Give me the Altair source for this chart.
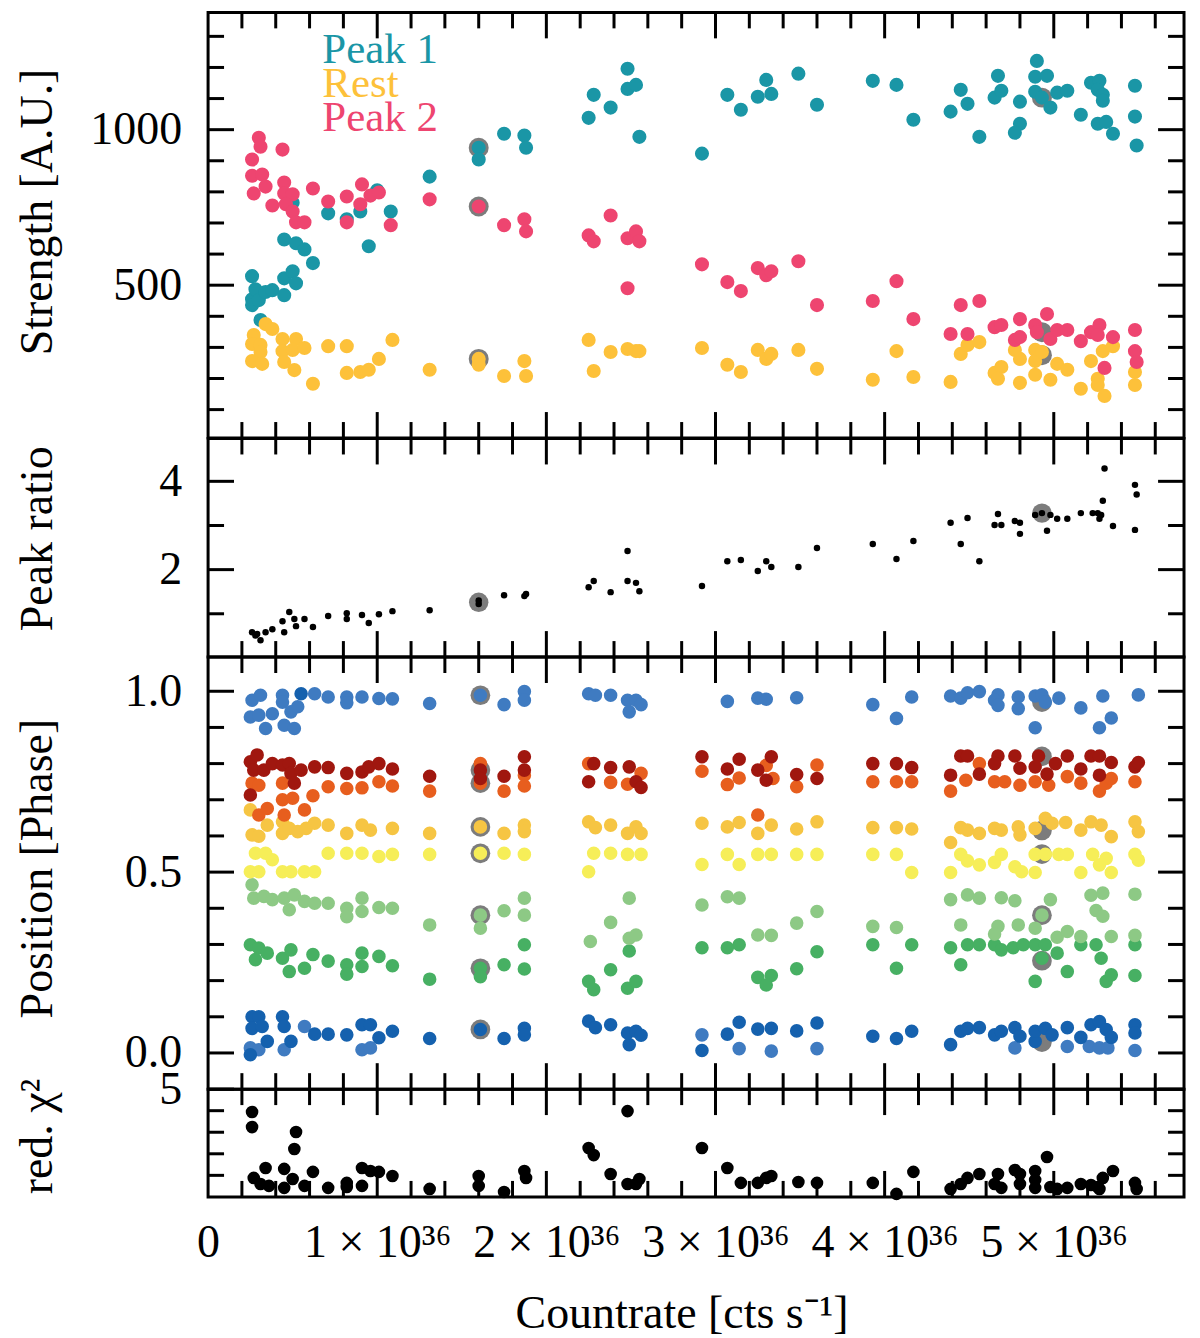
import altair as alt
import pandas as pd

# countrate in units of 1e36 cts/s
P1_X = [0.26, 0.26, 0.26, 0.28, 0.30, 0.31, 0.34, 0.38, 0.45, 0.45, 0.50, 0.52, 0.45, 0.52, 0.57, 0.62, 0.50, 0.71,
        0.82, 0.90, 0.95, 1.00, 1.08, 1.31, 1.60, 1.60, 1.75, 1.87, 1.88, 2.25, 2.28, 2.38, 2.48, 2.48, 2.53, 2.55,
        2.92, 3.07, 3.15, 3.25, 3.30, 3.33, 3.49, 3.60, 3.93, 4.07, 4.17, 4.39, 4.45, 4.49, 4.56, 4.67, 4.65, 4.69,
        4.80, 4.80, 4.77, 4.90, 4.89, 4.96, 4.89, 4.93, 4.98, 5.02, 5.08, 5.16, 5.22, 5.27, 5.26, 5.29, 5.29, 5.26,
        5.31, 5.35, 5.48, 5.48, 5.49]
P1_Y = [529, 455, 436, 487, 452, 388, 478, 484, 468, 522, 545, 506, 647, 635, 615, 571, 765, 731,
        712, 737, 625, 805, 737, 849, 942, 904, 987, 981, 942, 1038, 1112, 1071, 1196, 1131, 1144, 977,
        923, 1112, 1064, 1106, 1160, 1115, 1180, 1080, 1157, 1144, 1032, 1058, 1128, 1083, 977, 1173, 1103, 1125,
        1090, 1019, 990, 1221, 1170, 1173, 1122, 1103, 1071, 1119, 1125, 1048, 1151, 1157, 1128, 1112, 1093, 1019,
        1025, 987, 1141, 1042, 949]

REST_X = [0.34, 0.38, 0.27, 0.26, 0.31, 0.31, 0.26, 0.32, 0.44, 0.52, 0.44, 0.50, 0.57, 0.45, 0.51, 0.62, 0.71,
          0.82, 0.82, 0.90, 0.95, 1.01, 1.09, 1.31, 1.60, 1.60, 1.75, 1.87, 1.88, 2.25, 2.28, 2.38, 2.48, 2.53,
          2.55, 2.92, 3.07, 3.15, 3.25, 3.30, 3.33, 3.49, 3.60, 3.93, 4.07, 4.17, 4.39, 4.45, 4.49, 4.56, 4.65,
          4.69, 4.67, 4.77, 4.80, 4.80, 4.89, 4.89, 4.93, 4.89, 4.98, 5.02, 5.08, 5.16, 5.22, 5.26, 5.26, 5.30,
          5.29, 5.35, 5.48, 5.48]
REST_Y = [375, 359, 340, 311, 308, 285, 256, 247, 327, 327, 288, 292, 298, 253, 227, 183, 304,
          304, 218, 221, 228, 263, 324, 228, 263, 244, 208, 256, 208, 324, 224, 285, 295, 288,
          288, 298, 244, 221, 292, 263, 279, 292, 231, 196, 288, 205, 189, 279, 308, 317, 218,
          237, 199, 292, 263, 186, 292, 256, 285, 212, 196, 247, 228, 167, 256, 199, 179, 144,
          288, 304, 221, 179]

P2_X = [0.30, 0.31, 0.26, 0.44, 0.26, 0.32, 0.34, 0.27, 0.45, 0.45, 0.50, 0.38, 0.46, 0.50, 0.52, 0.57, 0.62,
        0.71, 0.82, 0.82, 0.91, 0.90, 0.96, 1.01, 1.08, 1.31, 1.60, 1.75, 1.87, 1.88, 2.25, 2.28, 2.38, 2.48,
        2.53, 2.55, 2.48, 2.92, 3.07, 3.15, 3.25, 3.30, 3.33, 3.49, 3.60, 3.93, 4.07, 4.17, 4.39, 4.45, 4.49,
        4.56, 4.65, 4.69, 4.80, 4.77, 4.80, 4.89, 4.90, 4.96, 4.98, 5.02, 5.08, 5.16, 5.22, 5.27, 5.26, 5.35,
        5.30, 5.48, 5.48, 5.49]
P2_Y = [974, 945, 904, 936, 852, 856, 817, 795, 830, 795, 792, 756, 760, 737, 702, 702, 811,
        769, 785, 702, 824, 760, 788, 798, 693, 776, 753, 693, 712, 673, 660, 641, 724, 651,
        673, 641, 490, 567, 510, 481, 555, 532, 545, 577, 436, 449, 513, 391, 343, 436, 343,
        449, 365, 372, 391, 324, 333, 372, 349, 407, 327, 356, 356, 320, 349, 372, 340, 333,
        234, 356, 288, 253]

HL_STR_X = [1.60, 1.60, 1.60, 4.93, 4.93, 4.93]
HL_STR_Y = [942, 753, 263, 1103, 349, 275]

RATIO_X = [0.26, 0.28, 0.31, 0.34, 0.38, 0.29, 0.45, 0.44, 0.48, 0.51, 0.52, 0.57, 0.62, 0.71, 0.82, 0.82, 0.91,
           0.95, 1.01, 1.09, 1.31, 1.60, 1.60, 1.75, 1.87, 1.88, 2.25, 2.28, 2.38, 2.48, 2.48, 2.53, 2.55, 2.92,
           3.07, 3.15, 3.25, 3.30, 3.33, 3.49, 3.60, 3.93, 4.07, 4.17, 4.39, 4.45, 4.49, 4.56, 4.67, 4.65, 4.69,
           4.77, 4.80, 4.80, 4.89, 4.93, 4.98, 4.96, 5.02, 5.08, 5.16, 5.23, 5.26, 5.27, 5.28, 5.29, 5.30, 5.35,
           5.48, 5.49, 5.48]
RATIO_Y = [0.58, 0.51, 0.40, 0.58, 0.65, 0.54, 0.58, 0.83, 1.04, 0.88, 0.72, 0.88, 0.70, 0.95, 1.01, 0.88, 0.97,
           0.79, 0.99, 1.06, 1.08, 1.30, 1.22, 1.42, 1.40, 1.45, 1.60, 1.74, 1.49, 2.42, 1.74, 1.70, 1.51, 1.63,
           2.19, 2.22, 1.97, 2.19, 2.06, 2.06, 2.49, 2.58, 2.24, 2.65, 3.06, 2.58, 3.17, 2.19, 3.26, 3.01, 3.01,
           3.10, 3.06, 2.81, 3.24, 3.28, 3.24, 2.88, 3.15, 3.15, 3.28, 3.28, 3.28, 3.15, 3.24, 3.56, 4.29, 2.99,
           3.92, 3.70, 2.90]

HL_RATIO_X = [1.60, 4.93]
HL_RATIO_Y = [1.26, 3.28]

# peak positions (phase), one list pair per component
LB_X = [0.26, 0.31, 0.25, 0.30, 0.34, 0.38, 0.44, 0.44, 0.45, 0.49, 0.51, 0.53, 0.63, 0.71, 0.82, 0.82, 0.91,
        1.01, 1.09, 1.31, 1.61, 1.75, 1.87, 1.87, 2.25, 2.29, 2.38, 2.48, 2.49, 2.53, 2.56,
        0.25, 0.30, 0.45, 0.57, 0.91, 0.96,
        3.07, 3.25, 3.30, 3.48, 3.93, 4.07, 4.16, 4.39, 4.45, 4.49, 4.56, 4.67, 4.65, 4.67, 4.79, 4.79, 4.89,
        4.93, 4.95, 5.03, 4.89, 5.16, 5.29, 5.34, 5.27, 5.50,
        2.92, 3.14, 3.33, 3.60, 4.77, 5.08, 5.21, 5.27, 5.32, 5.48]
LB_Y = [0.975, 0.989, 0.929, 0.934, 0.897, 0.938, 0.989, 0.970, 0.906, 0.943, 0.897, 0.957, 0.993, 0.984, 0.984,
        0.968, 0.984, 0.980, 0.979, 0.966, 0.989, 0.963, 0.999, 0.975, 0.993, 0.989, 0.989, 0.975, 0.943, 0.975,
        0.963,
        0.014, 0.009, 0.009, 0.073, 0.009, 0.014,
        0.972, 0.981, 0.978, 0.982, 0.963, 0.925, 0.984, 0.987, 0.981, 0.996, 0.999, 0.990, 0.975, 0.961, 0.984,
        0.952, 0.987, 0.990, 0.970, 0.981, 0.899, 0.954, 0.987, 0.926, 0.899, 0.990,
        0.050, 0.012, 0.005, 0.012, 0.014, 0.018, 0.018, 0.014, 0.014, 0.007]

DB_X = [0.55, 0.26, 0.30, 0.26, 0.32, 0.44, 0.45, 0.49, 0.35, 0.25, 0.63, 0.71, 0.82, 0.91, 0.96, 1.01, 1.09,
        1.31, 1.61, 1.75, 1.87, 1.87, 2.25, 2.29, 2.38, 2.49, 2.48, 2.53, 2.56,
        2.92, 3.07, 3.14, 3.25, 3.33, 3.48, 3.60, 3.93, 4.07, 4.16, 4.39, 4.45, 4.49, 4.56, 4.65, 4.69, 4.77,
        4.80, 4.89, 4.89, 4.95, 4.99, 5.08, 5.16, 5.22, 5.27, 5.31, 5.34, 5.48, 5.48]
DB_Y = [0.993, 0.100, 0.100, 0.068, 0.073, 0.100, 0.073, 0.032, 0.032, -0.005, 0.052, 0.052, 0.050, 0.078, 0.078,
        0.042, 0.060, 0.040, 0.065, 0.040, 0.068, 0.050, 0.088, 0.070, 0.078, 0.023, 0.055, 0.060, 0.049,
        0.007, 0.052, 0.085, 0.066, 0.068, 0.061, 0.083, 0.046, 0.040, 0.060, 0.023, 0.060, 0.068, 0.070, 0.050,
        0.060, 0.070, 0.046, 0.032, 0.060, 0.068, 0.050, 0.070, 0.043, 0.078, 0.087, 0.065, 0.043, 0.078, 0.055]

G_X = [0.25, 0.30, 0.28, 0.35, 0.44, 0.49, 0.48, 0.57, 0.62, 0.71, 0.82, 0.82, 0.91, 0.91, 1.01, 1.09, 1.31,
       1.61, 1.61, 1.75, 1.87, 1.87, 2.25, 2.28, 2.38, 2.49, 2.48, 2.53,
       2.92, 3.07, 3.14, 3.25, 3.33, 3.30, 3.48, 3.60, 3.93, 4.07, 4.16, 4.39, 4.45, 4.49, 4.56, 4.65, 4.69,
       4.76, 4.82, 4.89, 4.93, 4.95, 5.02, 4.89, 5.08, 5.16, 5.25, 5.28, 5.31, 5.34, 5.48, 5.48]
G_Y = [0.299, 0.290, 0.258, 0.276, 0.262, 0.285, 0.225, 0.234, 0.272, 0.254, 0.244, 0.218, 0.276, 0.239, 0.267,
       0.241, 0.204, 0.234, 0.211, 0.244, 0.299, 0.232, 0.198, 0.175, 0.230, 0.282, 0.179, 0.198,
       0.291, 0.291, 0.299, 0.209, 0.214, 0.188, 0.233, 0.280, 0.299, 0.234, 0.299, 0.291, 0.244, 0.299, 0.299,
       0.299, 0.285, 0.291, 0.299, 0.299, 0.262, 0.299, 0.276, 0.198, 0.225, 0.299, 0.299, 0.262, 0.198, 0.216,
       0.299, 0.214]

LG_X = [0.26, 0.27, 0.33, 0.38, 0.45, 0.51, 0.48, 0.57, 0.63, 0.71, 0.82, 0.82, 0.91, 0.91, 1.01, 1.09, 1.31,
        1.61, 1.61, 1.75, 1.87, 1.87, 2.26, 2.38, 2.49, 2.49, 2.53,
        2.92, 3.07, 3.14, 3.25, 3.33, 3.48, 3.60, 3.93, 4.07, 4.39, 4.45, 4.49, 4.56, 4.67, 4.65, 4.69, 4.77,
        4.79, 4.89, 4.93, 4.98, 5.02, 5.08, 5.16, 5.22, 5.29, 5.25, 5.29, 5.34, 5.48, 5.48]
LG_Y = [0.465, 0.428, 0.433, 0.424, 0.428, 0.437, 0.396, 0.419, 0.414, 0.414, 0.400, 0.377, 0.428, 0.391, 0.402,
        0.400, 0.354, 0.381, 0.345, 0.393, 0.428, 0.381, 0.308, 0.361, 0.428, 0.317, 0.326,
        0.409, 0.432, 0.428, 0.326, 0.325, 0.359, 0.391, 0.350, 0.347, 0.424, 0.354, 0.437, 0.428, 0.350, 0.329,
        0.429, 0.421, 0.354, 0.345, 0.381, 0.424, 0.320, 0.336, 0.322, 0.436, 0.442, 0.394, 0.378, 0.322, 0.439,
        0.325]

Y_X = [0.28, 0.34, 0.38, 0.25, 0.30, 0.44, 0.49, 0.57, 0.63, 0.71, 0.82, 0.91, 1.01, 1.09, 1.31, 1.61, 1.75,
       1.87, 2.28, 2.25, 2.38, 2.48, 2.56,
       2.92, 3.07, 3.14, 3.25, 3.33, 3.48, 3.60, 3.93, 4.07, 4.16, 4.39, 4.45, 4.49, 4.56, 4.65, 4.69, 4.77,
       4.81, 4.89, 4.89, 4.95, 5.03, 5.08, 5.16, 5.23, 5.27, 5.31, 5.34, 5.48, 5.50]
Y_Y = [0.552, 0.552, 0.534, 0.501, 0.501, 0.501, 0.501, 0.501, 0.501, 0.552, 0.552, 0.552, 0.543, 0.549, 0.549,
       0.552, 0.552, 0.549, 0.552, 0.501, 0.552, 0.549, 0.549,
       0.521, 0.549, 0.521, 0.549, 0.549, 0.549, 0.549, 0.549, 0.549, 0.499, 0.499, 0.549, 0.531, 0.520, 0.527,
       0.549, 0.515, 0.501, 0.549, 0.499, 0.549, 0.549, 0.549, 0.499, 0.549, 0.520, 0.538, 0.499, 0.549, 0.533]

GOLD_X = [0.25, 0.26, 0.30, 0.35, 0.44, 0.44, 0.48, 0.53, 0.58, 0.63, 0.71, 0.82, 0.91, 0.96, 1.09, 1.31, 1.61,
          1.75, 1.87, 1.87, 2.25, 2.29, 2.38, 2.48, 2.53, 2.56,
          2.92, 3.07, 3.14, 3.25, 3.33, 3.48, 3.60, 3.93, 4.07, 4.16, 4.39, 4.45, 4.49, 4.56, 4.65, 4.69, 4.79,
          4.80, 4.89, 4.95, 4.99, 5.07, 5.16, 5.22, 5.28, 5.34, 5.48, 5.50]
GOLD_Y = [0.672, 0.603, 0.599, 0.630, 0.639, 0.607, 0.621, 0.612, 0.621, 0.635, 0.630, 0.607, 0.630, 0.616, 0.621,
          0.607, 0.625, 0.607, 0.630, 0.612, 0.639, 0.623, 0.630, 0.607, 0.625, 0.607,
          0.635, 0.625, 0.637, 0.607, 0.630, 0.619, 0.639, 0.623, 0.623, 0.619, 0.582, 0.623, 0.616, 0.607, 0.621,
          0.616, 0.625, 0.603, 0.621, 0.649, 0.635, 0.637, 0.616, 0.639, 0.630, 0.598, 0.639, 0.612]

OR_X = [0.26, 0.30, 0.30, 0.35, 0.44, 0.44, 0.45, 0.50, 0.57, 0.62, 0.71, 0.82, 0.91, 1.01, 1.09, 1.31, 1.61,
        1.61, 1.75, 1.87, 1.87, 2.25, 2.38, 2.48, 2.56,
        2.92, 3.07, 3.14, 3.30, 3.34, 3.25, 3.48, 3.60, 3.93, 4.07, 4.16, 4.39, 4.48, 4.56, 4.65, 4.71, 4.80,
        4.89, 4.97, 5.08, 5.16, 5.27, 5.31, 5.34, 5.48]
OR_Y = [0.746, 0.740, 0.658, 0.676, 0.746, 0.700, 0.658, 0.704, 0.672, 0.711, 0.736, 0.731, 0.733, 0.750, 0.738,
        0.724, 0.800, 0.746, 0.724, 0.768, 0.738, 0.800, 0.748, 0.743, 0.773,
        0.779, 0.742, 0.760, 0.795, 0.759, 0.658, 0.736, 0.796, 0.750, 0.750, 0.750, 0.724, 0.754, 0.800, 0.750,
        0.750, 0.740, 0.750, 0.740, 0.764, 0.746, 0.724, 0.746, 0.759, 0.750]

DR_X = [0.25, 0.29, 0.27, 0.33, 0.38, 0.25, 0.44, 0.48, 0.49, 0.51, 0.55, 0.63, 0.71, 0.82, 0.91, 0.95, 1.01,
        1.09, 1.31, 1.61, 1.61, 1.75, 1.87, 1.87, 2.28, 2.25, 2.38, 2.49, 2.53, 2.56,
        2.92, 3.07, 3.14, 3.25, 3.33, 3.30, 3.48, 3.60, 3.93, 4.07, 4.16, 4.45, 4.49, 4.39, 4.56, 4.67, 4.65,
        4.77, 4.80, 4.91, 4.89, 4.96, 5.01, 5.08, 5.16, 5.22, 5.27, 5.27, 5.34, 5.48, 5.50]
DR_Y = [0.805, 0.824, 0.782, 0.782, 0.800, 0.713, 0.796, 0.800, 0.773, 0.746, 0.782, 0.791, 0.789, 0.773, 0.777,
        0.791, 0.800, 0.785, 0.765, 0.782, 0.759, 0.765, 0.819, 0.782, 0.800, 0.750, 0.789, 0.791, 0.750, 0.734,
        0.819, 0.785, 0.812, 0.782, 0.819, 0.754, 0.770, 0.759, 0.800, 0.800, 0.789, 0.821, 0.821, 0.768, 0.771,
        0.821, 0.800, 0.821, 0.787, 0.821, 0.791, 0.771, 0.800, 0.821, 0.785, 0.821, 0.821, 0.768, 0.803, 0.791,
        0.803]

HL_POS_X = [1.61] * 8 + [4.93] * 7
HL_POS_Y = [0.989, 0.782, 0.746, 0.625, 0.552, 0.381, 0.234, 0.065,
            0.970, 0.820, 0.615, 0.550, 0.381, 0.255, 0.030]

CHI_X = [0.26, 0.26, 0.52, 0.51, 0.27, 0.34, 0.31, 0.36, 0.45, 0.45, 0.50, 0.57, 0.62, 0.71, 0.82, 0.82, 0.91,
         0.91, 0.96, 1.01, 1.09, 1.31, 1.60, 1.60, 1.75, 1.87, 1.88, 2.25, 2.28, 2.38, 2.48, 2.48, 2.53, 2.55,
         2.92, 3.07, 3.15, 3.25, 3.30, 3.33, 3.49, 3.60, 3.93, 4.07, 4.17, 4.39, 4.45, 4.49, 4.56, 4.67, 4.65,
         4.69, 4.77, 4.80, 4.80, 4.89, 4.89, 4.89, 4.96, 4.98, 5.02, 5.08, 5.16, 5.22, 5.26, 5.29, 5.35, 5.27,
         5.48, 5.49]
CHI_Y = [3.94, 3.24, 3.01, 2.22, 0.88, 1.34, 0.60, 0.51, 1.30, 0.42, 0.83, 0.51, 1.16, 0.42, 0.65, 0.46, 1.34,
         0.51, 1.20, 1.16, 0.97, 0.37, 0.97, 0.51, 0.23, 1.20, 0.88, 2.27, 1.94, 1.06, 3.98, 0.60, 0.60, 0.83,
         2.27, 1.34, 0.65, 0.65, 0.88, 0.97, 0.69, 0.65, 0.65, 0.14, 1.16, 0.37, 0.60, 0.88, 1.06, 1.06, 0.60,
         0.42, 1.25, 1.06, 0.60, 1.20, 0.79, 0.42, 1.85, 0.46, 0.37, 0.42, 0.60, 0.55, 0.46, 0.88, 1.20, 0.37,
         0.65, 0.37]

X_MAJOR = [1, 2, 3, 4, 5]
X_MINOR = [0.2, 0.4, 0.6, 0.8, 1.2, 1.4, 1.6, 1.8, 2.2, 2.4, 2.6, 2.8, 3.2, 3.4, 3.6, 3.8,
           4.2, 4.4, 4.6, 4.8, 5.2, 5.4, 5.6]
X_LABELS = [0, 1, 2, 3, 4, 5]

FONT = "Liberation Serif"
FS = 46
W = 978
X_DOMAIN = [0, 5.77]
GRAY = "#7c7c7c"
P1_COL, REST_COL, P2_COL = "#1a96a6", "#fdc13a", "#ee4570"
POS_NAMES = ["lb", "db", "g", "lg", "y", "gold", "or", "dr"]
POS_COLS = ["#3f7bc1", "#1561ae", "#47b063", "#8dc985", "#f6ee58", "#f6c543", "#e75e1e", "#a0170f"]

xscale = alt.Scale(domain=X_DOMAIN, nice=False, zero=False)


def xy(xs, ys, **extra):
    d = pd.DataFrame({"x": xs, "y": ys})
    for k, v in extra.items():
        d[k] = v
    return d


def y_axis(title, values, fmt, title_y):
    return alt.Axis(values=values, format=fmt, title=title, ticks=False, domain=False, grid=False,
                    labelPadding=26.5, labelFlush=False, labelOverlap=False,
                    titleX=-156.5, titleY=title_y, titleBaseline="alphabetic")


def frame(height, yscale, yaxis, xaxis, y_major, y_minor):
    # inward ticks on all four sides
    layers = []
    for vals, L in ((X_MAJOR, 26), (X_MINOR, 16)):
        base = alt.Chart(pd.DataFrame({"t": vals})).mark_rule(color="black", strokeWidth=3)
        xe = alt.X("t:Q", scale=xscale, axis=xaxis)
        layers.append(base.encode(x=xe, y=alt.value(0), y2=alt.value(L)))
        layers.append(base.encode(x=xe, y=alt.value(height), y2=alt.value(height - L)))
    for vals, L in ((y_major, 26), (y_minor, 16)):
        base = alt.Chart(pd.DataFrame({"t": vals})).mark_rule(color="black", strokeWidth=3)
        ye = alt.Y("t:Q", scale=yscale, axis=yaxis)
        layers.append(base.encode(y=ye, x=alt.value(0), x2=alt.value(L)))
        layers.append(base.encode(y=ye, x=alt.value(W), x2=alt.value(W - L)))
    return layers


def pts(df, size, yscale, yaxis, xaxis, color):
    return alt.Chart(df).mark_circle(size=size, opacity=1).encode(
        x=alt.X("x:Q", scale=xscale, axis=xaxis),
        y=alt.Y("y:Q", scale=yscale, axis=yaxis),
        color=color,
    )


# --- Strength panel
h1 = 426.5
s_scale = alt.Scale(domain=[8.7, 1377], nice=False, zero=False)
s_axis = y_axis("Strength [A.U.]", [500, 1000], "d", 199.5)
s_layers = [
    pts(xy(HL_STR_X, HL_STR_Y), 400, s_scale, s_axis, None, alt.value(GRAY)),
    pts(xy(P1_X, P1_Y), 200, s_scale, s_axis, None, alt.value(P1_COL)),
    pts(xy(REST_X, REST_Y), 200, s_scale, s_axis, None, alt.value(REST_COL)),
    pts(xy(P2_X, P2_Y), 200, s_scale, s_axis, None, alt.value(P2_COL)),
]
for lab, col, yy in (("Peak 1", P1_COL, 50.5), ("Rest", REST_COL, 84.5), ("Peak 2", P2_COL, 118.5)):
    s_layers.append(
        alt.Chart(pd.DataFrame({"t": [lab]})).mark_text(
            align="left", baseline="alphabetic", font=FONT, fontSize=43, color=col
        ).encode(x=alt.value(114.5), y=alt.value(yy), text="t:N")
    )
s_layers += frame(h1, s_scale, s_axis, None, [500, 1000],
                  [100, 200, 300, 400, 600, 700, 800, 900, 1100, 1200, 1300])
strength = alt.layer(*s_layers).properties(width=W, height=h1)

# --- Peak ratio panel
h2 = 219
r_scale = alt.Scale(domain=[0.02, 4.97], nice=False, zero=False)
r_axis = y_axis("Peak ratio", [2, 4], "d", 100)
r_layers = [
    pts(xy(HL_RATIO_X, HL_RATIO_Y), 380, r_scale, r_axis, None, alt.value(GRAY)),
    pts(xy(RATIO_X, RATIO_Y), 42, r_scale, r_axis, None, alt.value("black")),
]
r_layers += frame(h2, r_scale, r_axis, None, [2, 4], [1, 3])
ratio = alt.layer(*r_layers).properties(width=W, height=h2)

# --- Position panel
h3 = 433
p_scale = alt.Scale(domain=[-0.1, 1.0946], nice=False, zero=False)
p_axis = y_axis("Position [Phase]", [0, 0.5, 1.0], ".1f", 211.5)
pos_df = pd.concat([
    xy(LB_X, LB_Y, s="lb"), xy(DB_X, DB_Y, s="db"), xy(G_X, G_Y, s="g"), xy(LG_X, LG_Y, s="lg"),
    xy(Y_X, Y_Y, s="y"), xy(GOLD_X, GOLD_Y, s="gold"), xy(OR_X, OR_Y, s="or"), xy(DR_X, DR_Y, s="dr"),
], ignore_index=True)
p_layers = [
    pts(xy(HL_POS_X, HL_POS_Y), 390, p_scale, p_axis, None, alt.value(GRAY)),
    pts(pos_df, 185, p_scale, p_axis, None,
        alt.Color("s:N", scale=alt.Scale(domain=POS_NAMES, range=POS_COLS), legend=None)),
]
p_layers += frame(h3, p_scale, p_axis, None, [0, 0.5, 1.0], [0.1, 0.2, 0.3, 0.4, 0.6, 0.7, 0.8, 0.9])
position = alt.layer(*p_layers).properties(width=W, height=h3)

# --- reduced chi^2 panel
h4 = 108
c_scale = alt.Scale(domain=[0, 5], nice=False, zero=False)
c_axis = y_axis("red. χ²", [5], "d", 47)
x_axis = alt.Axis(values=X_LABELS, title="Countrate [cts s⁻¹]", ticks=False, domain=False, grid=False,
                  labelPadding=24, labelFlush=False, labelOverlap=False,
                  labelExpr="datum.value == 0 ? '0' : datum.value + ' × 10³⁶'",
                  titleX=474.5, titleY=131, titleBaseline="alphabetic")
c_layers = [pts(xy(CHI_X, CHI_Y), 160, c_scale, c_axis, x_axis, alt.value("black"))]
c_layers += frame(h4, c_scale, c_axis, x_axis, [5], [1, 2, 3, 4])
chi = alt.layer(*c_layers).properties(width=W, height=h4)

chart = (
    alt.vconcat(strength, ratio, position, chi, spacing=0, bounds="flush")
    .properties(padding={"left": 4.5, "top": 0, "right": 5, "bottom": 5})
    .configure_view(stroke="black", strokeWidth=3)
    .configure_axis(labelFont=FONT, titleFont=FONT, labelFontSize=FS, titleFontSize=FS,
                    titleFontWeight="normal", labelColor="black", titleColor="black")
)

chart.save("out.html", embed_options={"renderer": "svg", "actions": False})
